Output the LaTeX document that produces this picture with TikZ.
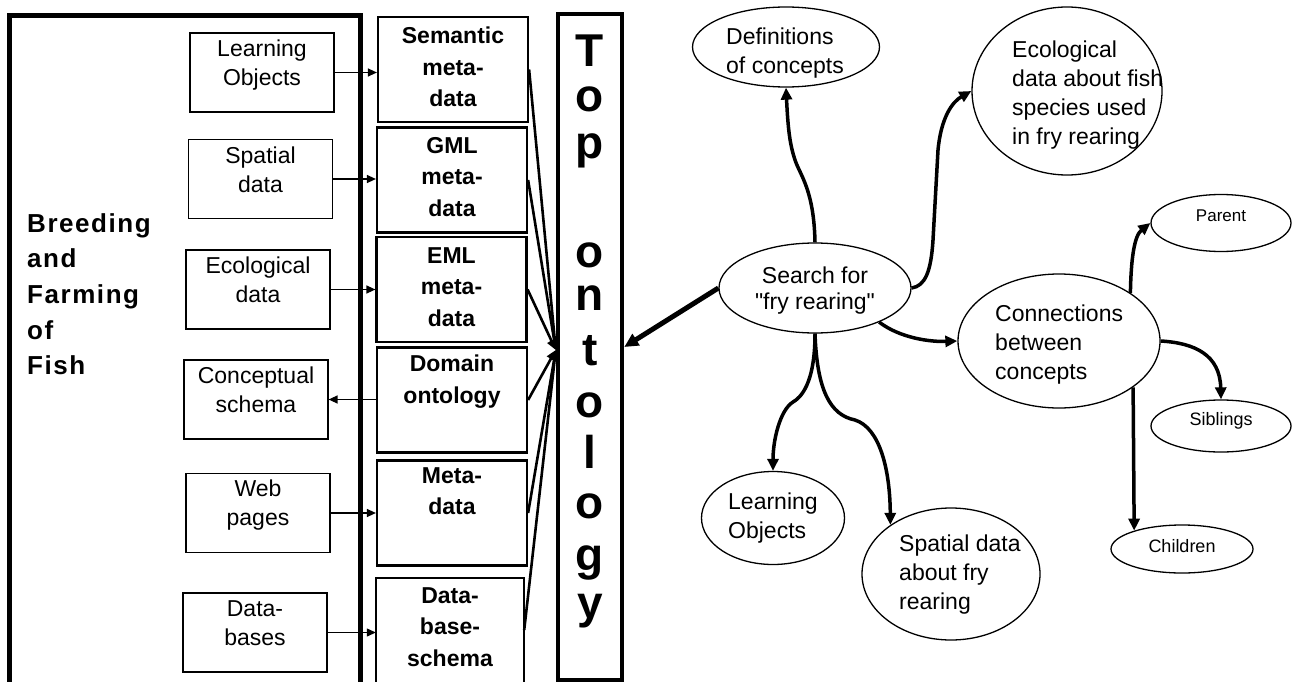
\documentclass[tikz,border=0pt]{standalone}
\usepackage{fontspec}
\setmainfont{Liberation Sans}
\newfontfamily\qfont{Liberation Sans}
\newfontfamily\spacedbold[LetterSpace=6,BoldFont={Liberation Sans Bold}]{Liberation Sans}
\usetikzlibrary{arrows.meta,shapes.geometric}
\begin{document}
\begin{tikzpicture}[x=1pt,y=-1pt,
 box/.style={draw=black, rectangle, inner sep=0pt},
 ibox/.style={box, line width=1.2pt, minimum width=144pt, minimum height=79pt},
 mbox/.style={box, line width=2.2pt, minimum width=150pt, minimum height=105pt},
 itext/.style={inner sep=0pt, anchor=north, align=center, font=\fontsize{23}{29}\selectfont},
 mtext/.style={inner sep=0pt, anchor=north, align=center, font=\fontsize{23}{31.5}\selectfont\bfseries},
 ell/.style={draw=black, ellipse, line width=1.3pt, inner sep=0pt},
 etext/.style={inner sep=0pt, anchor=north west, align=left, font=\fontsize{23}{29}\selectfont},
 stext/.style={inner sep=0pt, font=\fontsize{18}{22}\selectfont},
 thinarrow/.style={line width=1.3pt, -{Triangle[length=9pt,width=8pt]}},
 convarrow/.style={line width=2.6pt, -{Triangle[length=10pt,width=9pt]}},
 link/.style={line width=3.5pt, -{Triangle[length=12pt,width=11pt]}},
 letter/.style={inner sep=0pt, anchor=base, font=\fontsize{46}{46}\selectfont\bfseries}
]
\fill[white] (0,0) rectangle (1292,682);
\useasboundingbox (0,0) rectangle (1292,682);

% outer box
\node[inner sep=0pt, minimum width=350pt, minimum height=666pt] (fish) at (185,349) {};
\draw[line width=5pt] (fish.south west) |- (fish.north east) -- (fish.south east);
\node[inner sep=0pt, anchor=north west, align=left, font=\fontsize{26}{35.7}\selectfont\spacedbold\bfseries] (fishT) at (27,213) {Breeding\\and\\Farming\\of\\Fish};

% inner boxes
\node[ibox] (lo) at (262,72.5) {};
\node[itext] (loT) at (262,40) {Learning\\Objects};
\node[ibox] (sp) at (260.5,179) {};
\node[itext] (spT) at (260.5,147) {Spatial\\data};
\node[ibox] (eco) at (258,289.5) {};
\node[itext] (ecoT) at (258,257) {Ecological\\data};
\node[ibox] (con) at (256,399.5) {};
\node[itext] (conT) at (256,367) {Conceptual\\schema};
\node[ibox] (web) at (258,513) {};
\node[itext] (webT) at (258,480) {Web\\pages};
\node[ibox] (db) at (255,632.5) {};
\node[itext] (dbT) at (255,600) {Data-\\bases};

% middle boxes
\node[mbox] (sem) at (453,69.5) {};
\node[mtext] (semT) at (453,27) {Semantic\\meta-\\data};
\node[mbox] (gml) at (452,180) {};
\node[mtext] (gmlT) at (452,137) {GML\\meta-\\data};
\node[mbox] (eml) at (451.5,289.5) {};
\node[mtext] (emlT) at (451.5,247) {EML\\meta-\\data};
\node[mbox] (dom) at (452,400) {};
\node[mtext] (domT) at (452,355) {Domain\\ontology};
\node[mbox] (meta) at (452,513) {};
\node[mtext] (metaT) at (452,467) {Meta-\\data};
\node[inner sep=0pt, minimum width=148pt, minimum height=104pt] (dbs) at (450,630) {};
\draw[line width=2.2pt] (dbs.south west) |- (dbs.north east) -- (dbs.south east);
\node[mtext] (dbsT) at (450,587) {Data-\\base-\\schema};

% top ontology
\node[box, line width=4.5pt, minimum width=64pt, minimum height=666pt] (ont) at (590,347) {};
\foreach \l/\y in {T/67,o/112,p/158,o/267,n/310,t/365,o/417,l/468,o/518,g/570,y/618}
  \node[letter] (L\y) at (590,\y) {\l};
\coordinate (conv) at ([yshift=-3pt]ont.west);

% left arrows
\draw[thinarrow] (lo.east) -- (lo.east -| sem.west);
\draw[thinarrow] (sp.east) -- (sp.east -| gml.west);
\draw[thinarrow] (eco.east) -- (eco.east -| eml.west);
\draw[thinarrow] (dom.west |- con.east) -- (con.east);
\draw[thinarrow] (web.east) -- (web.east -| meta.west);
\draw[thinarrow] (db.east) -- (db.east -| dbs.west);

\foreach \n in {sem,gml,eml,dom,meta,dbs}
  \draw[convarrow] (\n.east) -- (conv);

% ellipses
\node[ell, minimum width=187pt, minimum height=80pt] (def) at (786,47) {};
\node[etext] (defT) at (726,28) {Definitions\\of concepts};
\node[ell, minimum width=190pt, minimum height=168pt] (ecoE) at (1067,91) {};
\node[etext] (ecoET) at (1012,41) {Ecological\\data about fish\\species used\\in fry rearing};
\node[ell, minimum width=192pt, minimum height=90pt] (srch) at (815,288) {};
\node[etext, anchor=north, align=center, font=\fontsize{23}{26}\selectfont\qfont] (srchT) at (815,267) {Search for\\"fry rearing"};
\node[ell, minimum width=202pt, minimum height=134pt] (conn) at (1059,341) {};
\node[etext] (connT) at (995,305) {Connections\\between\\concepts};
\node[ell, minimum width=140pt, minimum height=57pt] (par) at (1221,223) {};
\node[stext, font=\fontsize{17}{20}\selectfont] (parT) at (1221,216) {Parent};
\node[ell, minimum width=140pt, minimum height=52pt] (sib) at (1221,426) {};
\node[stext] (sibT) at (1221,421) {Siblings};
\node[ell, minimum width=142pt, minimum height=48pt] (chi) at (1182,549) {};
\node[stext] (chiT) at (1182,546) {Children};
\node[ell, minimum width=143pt, minimum height=93pt] (loE) at (773,518) {};
\node[etext] (loET) at (728,493) {Learning\\Objects};
\node[ell, minimum width=178pt, minimum height=132pt] (spE) at (951,574) {};
\node[etext] (spET) at (899,535) {Spatial data\\about fry\\rearing};

% connectors
\draw[line width=5pt, -{Triangle[length=14pt,width=13pt]}] (srch.west) -- (ont.east);
\draw[link] (srch.north) .. controls (814,190) and (800,175) .. (795,160) .. controls (790,145) and (788,130) .. (def.south);
\draw[link] (srch.east) .. controls (925,286) and (931,272) .. (933,240) -- (938,150) .. controls (941,118) and (952,102) .. (ecoE.west);
\draw[link] (srch.-28) .. controls (900,338) and (930,342) .. (conn.west);
\draw[link] (srch.south) .. controls (815,385) and (800,398) .. (793,402) .. controls (780,410) and (773,440) .. (loE.north);
\draw[link] (srch.south) .. controls (817,390) and (830,415) .. (855,420) .. controls (880,428) and (890,470) .. (spE.141);
\draw[link] (conn.34) .. controls (1131,260) and (1134,236) .. (par.west);
\draw[link] (conn.east) .. controls (1195,343) and (1220,355) .. (sib.north);
\draw[link] (conn.-32) -- (chi.159);
\end{tikzpicture}
\end{document}
